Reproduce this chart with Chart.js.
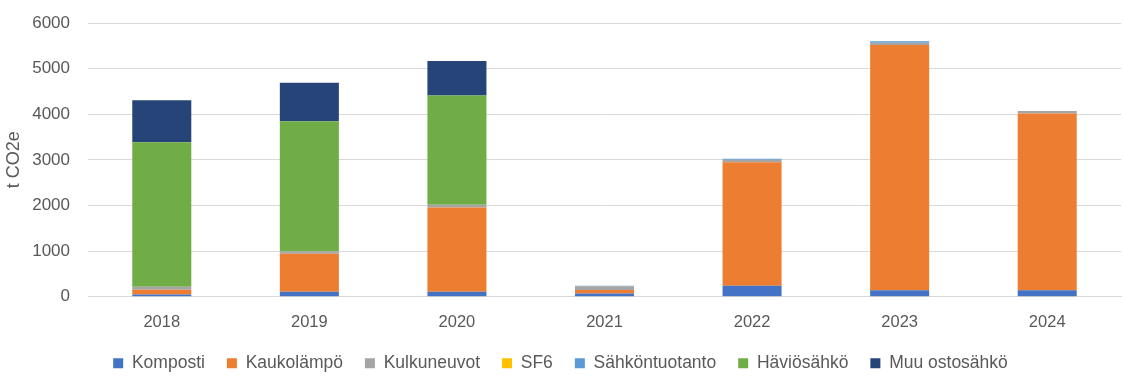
<!DOCTYPE html>
<html>
<head>
<meta charset="utf-8">
<script src="https://cdn.jsdelivr.net/npm/chart.js@4"></script>
<style>
  html, body { margin: 0; padding: 0; background: #fff; }
  #wrap { width: 1124px; height: 386px; }
</style>
</head>
<body>
<div id="wrap"><canvas id="chart"></canvas></div>
<script>
const years = ['2018', '2019', '2020', '2021', '2022', '2023', '2024'];

const komposti      = [50, 110, 110, 70, 240, 140, 140];
const kaukolampo    = [100, 830, 1846, 75, 2710, 5375, 3875];
const kulkuneuvot   = [70, 50, 60, 85, 50, 50, 55];
const sf6           = [0, 0, 0, 0, 0, 0, 0];
const sahkontuotanto = [0, 0, 0, 10, 25, 35, 0];
const haviosahko    = [3165, 2857, 2396, 0, 0, 0, 0];
const muuOstosahko  = [920, 842, 754, 0, 0, 0, 0];

const yTicks = [0, 1000, 2000, 3000, 4000, 5000, 6000];

const series = [
    { label: 'Komposti', data: komposti, color: '#4472C4' },
    { label: 'Kaukolämpö', data: kaukolampo, color: '#ED7D31' },
    { label: 'Kulkuneuvot', data: kulkuneuvot, color: '#A5A5A5' },
    { label: 'SF6', data: sf6, color: '#FFC000' },
    { label: 'Sähköntuotanto', data: sahkontuotanto, color: '#5B9BD5' },
    { label: 'Häviösähkö', data: haviosahko, color: '#70AD47' },
    { label: 'Muu ostosähkö', data: muuOstosahko, color: '#264478' },
];

const font = "'Liberation Sans', 'Open Sans', sans-serif";

// legend padding sets both item spacing and height, so trim the height afterwards
const legendTweak = {
    id: 'legendTweak',
    beforeLayout(chart) {
        const lg = chart.legend;
        if (lg && !lg._tweaked) {
            const fit = lg.fit;
            lg.fit = function () { fit.call(this); this.height -= 10; };
            lg._tweaked = true;
        }
    },
    afterLayout(chart) {
        const lg = chart.legend;
        if (lg) { lg.top -= 8; }
    },
};

new Chart(document.getElementById('chart').getContext('2d'), {
    type: 'bar',
    data: {
        labels: years,
        datasets: series.map(s => ({
            label: s.label,
            data: s.data,
            backgroundColor: s.color,
            borderWidth: 0,
            categoryPercentage: 1,
            barPercentage: 0.4,
        })),
    },
    options: {
        responsive: true,
        maintainAspectRatio: false,
        animation: false,
        layout: { padding: { top: 23, right: 3, left: 0, bottom: 6 } },
        plugins: {
            tooltip: { enabled: false },
            legend: {
                position: 'bottom',
                labels: {
                    boxWidth: 10,
                    boxHeight: 10,
                    padding: 22,
                    color: '#595959',
                    font: { family: font, size: 17.5 },
                },
            },
        },
        scales: {
            x: {
                stacked: true,
                grid: { display: false },
                border: { color: '#d9d9d9', width: 1 },
                ticks: { color: '#595959', font: { family: font, size: 16.5 }, padding: 8 },
            },
            y: {
                stacked: true,
                min: 0,
                max: 6000,
                afterBuildTicks: axis => { axis.ticks = yTicks.map(v => ({ value: v })); },
                afterFit: axis => {
                    axis.width = 88;
                    axis.paddingTop = 0;
                    axis.paddingBottom = 0;
                },
                grid: { color: '#d9d9d9', lineWidth: 1, drawTicks: false },
                border: { display: false },
                ticks: {
                    color: '#595959',
                    font: { family: font, size: 17 },
                    padding: 18,
                    callback: v => String(v),
                },
                title: {
                    display: true,
                    text: 't CO2e',
                    color: '#595959',
                    font: { family: font, size: 18 },
                    padding: { top: 3, bottom: 0 },
                },
            },
        },
    },
    plugins: [legendTweak],
});
</script>
</body>
</html>
